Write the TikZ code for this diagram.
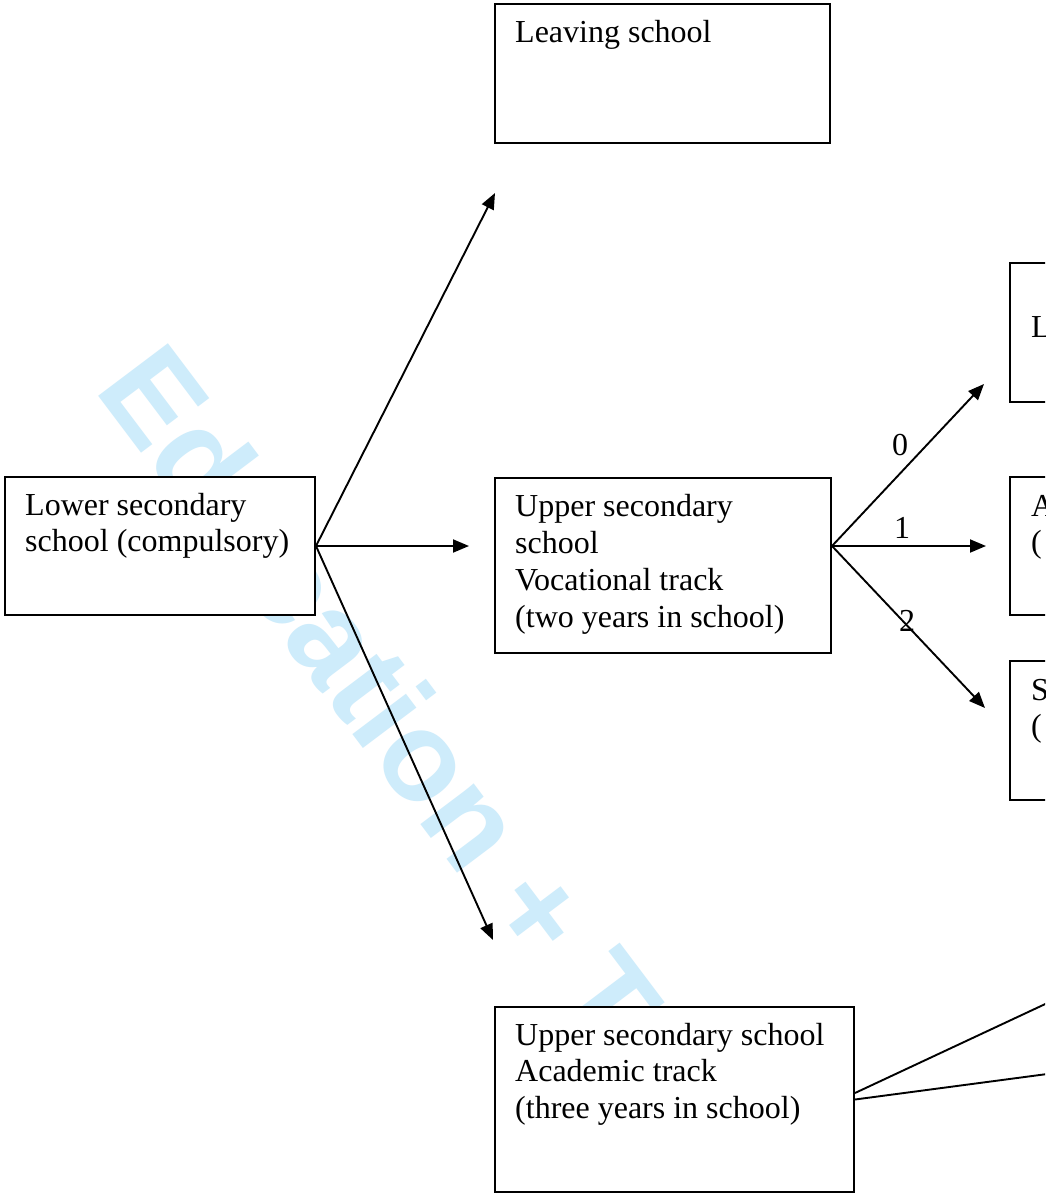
\documentclass[tikz,border=0pt]{standalone}
\usepackage{fontspec}
\setmainfont{Liberation Serif}
\newfontfamily\wmfont{Liberation Sans}
\usetikzlibrary{arrows.meta}
\definecolor{wmblue}{RGB}{206,236,251}
\newcommand{\boxlines}[1]{\begin{tabular}[t]{@{}l@{}}#1\end{tabular}}
\tikzset{
  box/.style={draw=black, line width=2pt, fill=white, rectangle, inner sep=0pt},
  txt/.style={anchor=base west, inner sep=0pt, font=\fontsize{32}{36.8}\selectfont},
  lbl/.style={inner sep=0pt, font=\fontsize{32}{36.8}\selectfont},
  arr/.style={line width=1.9pt, -{Triangle[length=16pt,width=13pt]}},
  ln/.style={line width=1.9pt},
  wm/.style={font=\wmfont\bfseries\fontsize{127}{127}\selectfont, text=wmblue, rotate=-53, anchor=base west, inner sep=0pt}
}
\begin{document}
\begin{tikzpicture}[x=1pt,y=-1pt]
\useasboundingbox (0,0) rectangle (1045,1194);
\clip (0,0) rectangle (1045,1194);
\fill[white] (0,0) rectangle (1045,1194);
% watermark
\node[wm] (wmark) at (93,389) {Education + T};
% boxes
\node[box, minimum width=335pt, minimum height=139pt] (leave) at (662.5,73.5) {};
\node[box, minimum width=310pt, minimum height=138pt] (low) at (160,546) {};
\node[box, minimum width=336pt, minimum height=175pt] (voc) at (663,565.5) {};
\node[box, minimum width=359pt, minimum height=185pt] (acad) at (674.5,1099.5) {};
\node[box, minimum width=290pt, minimum height=139pt] (r1) at (1155,332.5) {};
\node[box, minimum width=290pt, minimum height=138pt] (r2) at (1155,546) {};
\node[box, minimum width=290pt, minimum height=139pt] (r3) at (1155,730.5) {};
% texts
\node[txt] (leaveT) at (515,42.7) {Leaving school};
\node[txt] (lowT) at (25,515) {\boxlines{Lower secondary\\school (compulsory)}};
\node[txt] (vocT) at (515,516.7) {\boxlines{Upper secondary\\school\\Vocational track\\(two years in school)}};
\node[txt] (acadT) at (515,1045) {\boxlines{Upper secondary school\\Academic track\\(three years in school)}};
\node[txt] (r1T) at (1031,337) {L};
\node[txt] (r2T) at (1031,516) {\boxlines{A\\(}};
\node[txt] (r3T) at (1031,700) {\boxlines{S\\(}};
% connectors
\coordinate (tipLeave) at (495,193);
\coordinate (tipVoc) at (469,546);
\coordinate (tipAcad) at (493,940);
\draw[arr] (low.east) -- (tipLeave);
\draw[arr] (low.east) -- (tipVoc);
\draw[arr] (low.east) -- (tipAcad);
\coordinate (vocOut) at (voc.east |- low.east);
\coordinate (t0) at (984,384);
\coordinate (t1) at (986,546);
\coordinate (t2) at (985,708);
\draw[arr] (vocOut) -- (t0);
\draw[arr] (vocOut) -- (t1);
\draw[arr] (vocOut) -- (t2);
\node[lbl] (l0) at (900,445) {0};
\node[lbl] (l1) at (902,528) {1};
\node[lbl] (l2) at (907,621) {2};
\coordinate (e1) at (1100,978.4);
\coordinate (e2) at (1100,1067);
\draw[ln] ([yshift=6.5pt]acad.east) -- (e1);
\draw[ln] (acad.east) -- (e2);
\end{tikzpicture}
\end{document}
